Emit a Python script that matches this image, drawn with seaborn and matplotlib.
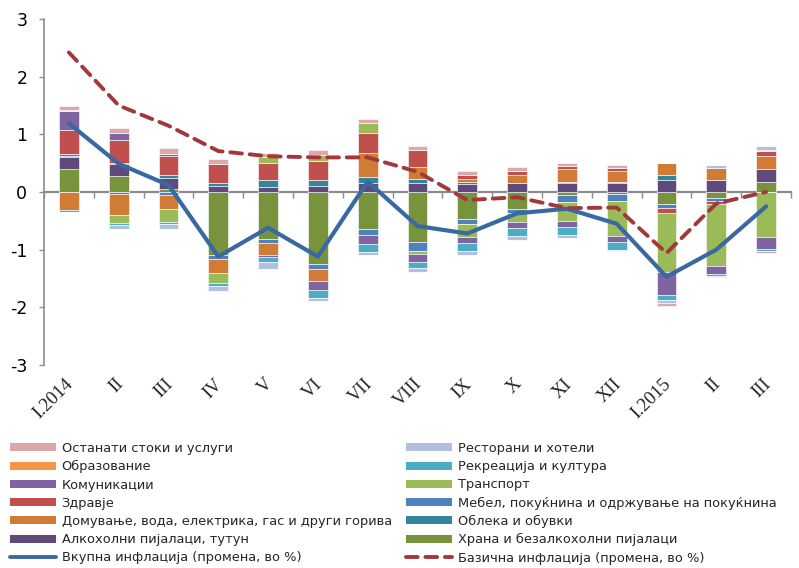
import numpy as np
import pandas as pd
import matplotlib
matplotlib.use("Agg")
import matplotlib.pyplot as plt
import seaborn as sns
from matplotlib.patches import Patch
from matplotlib.lines import Line2D

# Periods
periods = ["I.2014", "II", "III", "IV", "V", "VI", "VII", "VIII", "IX", "X",
           "XI", "XII", "I.2015", "II", "III"]

# Contributions to annual inflation by CPI group (percentage points)
food        = [0.40, 0.28, 0.06, -1.10, -0.82, -1.25, -0.64, -0.86, -0.46, -0.29, -0.06, -0.04, -0.20, -0.11, 0.17]
alcohol     = [0.20, 0.21, 0.19, 0.10, 0.09, 0.10, 0.16, 0.16, 0.14, 0.15, 0.16, 0.16, 0.21, 0.21, 0.23]
clothing    = [0.03, 0.02, 0.05, 0.06, 0.11, 0.10, 0.10, 0.06, 0.03, 0.00, 0.02, 0.02, 0.08, 0.00, 0.00]
furniture   = [0.03, -0.03, -0.06, -0.06, -0.07, -0.09, -0.11, -0.17, -0.10, -0.07, -0.12, -0.12, -0.07, -0.05, 0.00]
housing     = [-0.32, -0.37, -0.24, -0.25, -0.20, -0.20, 0.42, 0.21, 0.06, 0.15, 0.22, 0.18, 0.21, 0.21, 0.22]
health      = [0.41, 0.40, 0.32, 0.32, 0.30, 0.34, 0.34, 0.30, 0.07, 0.06, 0.05, 0.06, -0.10, -0.04, 0.09]
transport   = [0.00, -0.14, -0.22, -0.16, 0.11, 0.10, 0.18, -0.05, -0.22, -0.16, -0.32, -0.60, -1.02, -1.08, -0.78]
communic    = [0.33, 0.11, 0.04, 0.00, -0.03, -0.16, -0.16, -0.13, -0.11, -0.11, -0.11, -0.11, -0.40, -0.14, -0.20]
recreation  = [-0.03, -0.03, -0.03, -0.06, -0.09, -0.13, -0.13, -0.11, -0.13, -0.13, -0.14, -0.13, -0.09, -0.03, -0.05]
education   = [0.00, 0.00, 0.00, 0.00, 0.00, 0.00, 0.00, 0.00, 0.00, 0.00, 0.00, 0.00, 0.00, 0.00, 0.02]
restaurants = [0.02, -0.07, -0.09, -0.09, -0.13, -0.06, -0.06, -0.07, -0.08, -0.08, -0.05, -0.02, -0.04, 0.04, 0.06]
other       = [0.075, 0.09, 0.10, 0.09, 0.06, 0.09, 0.07, 0.06, 0.07, 0.08, 0.06, 0.05, -0.05, -0.02, -0.03]

# Headline and core inflation (y-o-y change, %)
total_infl = [1.19, 0.49, 0.12, -1.12, -0.62, -1.12, 0.18, -0.59, -0.72, -0.37, -0.29, -0.55, -1.47, -1.00, -0.25]
core_infl  = [2.42, 1.50, 1.15, 0.71, 0.62, 0.60, 0.60, 0.35, -0.14, -0.09, -0.28, -0.27, -1.06, -0.20, 0.00]

# Group names, in stacking order (bottom to top)
groups = [
    ("Храна и безалкохолни пијалаци", food, "#77933C"),
    ("Алкохолни пијалаци, тутун", alcohol, "#604A7B"),
    ("Облека и обувки", clothing, "#31859C"),
    ("Мебел, покуќнина и одржување на покуќнина", furniture, "#4F81BD"),
    ("Домување, вода, електрика, гас и други горива", housing, "#D07B36"),
    ("Здравје", health, "#C0504D"),
    ("Транспорт", transport, "#9BBB59"),
    ("Комуникации", communic, "#8064A2"),
    ("Рекреација и култура", recreation, "#4BACC6"),
    ("Образование", education, "#F79646"),
    ("Ресторани и хотели", restaurants, "#B0C1E0"),
    ("Останати стоки и услуги", other, "#DCA8A8"),
]
total_label = "Вкупна инфлација (промена, во %)"
core_label = "Базична инфлација (промена, во %)"

sns.set_theme(style="white")
plt.rcParams["font.family"] = ["DejaVu Sans"]

fig = plt.figure(figsize=(7.99, 5.68), dpi=100)
ax = fig.add_axes([44 / 799, 1 - 365 / 568, (791 - 44) / 799, (365 - 19) / 568])

x = np.arange(len(periods))
pos_base = np.zeros(len(periods))
neg_base = np.zeros(len(periods))
for name, vals, color in groups:
    v = np.asarray(vals, dtype=float)
    pos = np.where(v > 0, v, 0.0)
    neg = np.where(v < 0, v, 0.0)
    ax.bar(x, pos, bottom=pos_base, width=0.4, color=color,
           edgecolor="white", linewidth=0.4, zorder=2)
    ax.bar(x, neg, bottom=neg_base, width=0.4, color=color,
           edgecolor="white", linewidth=0.4, zorder=2)
    pos_base += pos
    neg_base += neg

lines = pd.DataFrame({"x": x, "total": total_infl, "core": core_infl})
sns.lineplot(data=lines, x="x", y="total", ax=ax, color="#3A69A2",
             linewidth=3.0, zorder=4)
sns.lineplot(data=lines, x="x", y="core", ax=ax, color="#A3383A",
             linewidth=2.8, zorder=4, dashes=False)
ax.lines[-1].set_dashes([3.0, 2.0])
ax.lines[-1].set_dash_capstyle("round")

ax.set_xlim(-0.5, len(periods) - 0.5)
ax.set_ylim(-3, 3)
ax.set_xlabel("")
ax.set_ylabel("")

axis_gray = "#8C8C8C"
for s in ["top", "right"]:
    ax.spines[s].set_visible(False)
ax.spines["left"].set_color(axis_gray)
ax.spines["left"].set_linewidth(1.2)
ax.spines["bottom"].set_position(("data", 0))
ax.spines["bottom"].set_color(axis_gray)
ax.spines["bottom"].set_linewidth(1.6)
ax.spines["bottom"].set_zorder(1)

ax.set_yticks(np.arange(-3, 4, 1))
ax.set_yticklabels([str(t) for t in range(-3, 4)])
ax.tick_params(axis="y", which="major", left=True, length=3.5, width=1,
               color=axis_gray, labelsize=12.5, pad=8.5, labelcolor="black")
ax.set_xticks(np.arange(-0.5, len(periods), 1.0))
ax.tick_params(axis="x", which="major", bottom=True, length=4, width=1,
               color=axis_gray, labelbottom=False, direction="out")

# Period labels below the plotting area
trans = matplotlib.transforms.blended_transform_factory(ax.transData, ax.transAxes)
for xi, lab in zip(x, periods):
    ax.text(xi - 0.08, -0.03, lab, transform=trans, rotation=45,
            ha="right", va="top", rotation_mode="anchor",
            fontsize=13.5, family="Liberation Serif")

# Legend in two columns, filled row by row
handles = {}
for name, vals, color in groups:
    handles[name] = Patch(facecolor=color, edgecolor="none")
handles[total_label] = Line2D([0], [0], color="#3A69A2", linewidth=2.8)
handles[core_label] = Line2D([0], [0], color="#A3383A", linewidth=2.8,
                             dashes=[3.0, 2.0], dash_capstyle="round")
left_col = ["Останати стоки и услуги", "Образование", "Комуникации", "Здравје",
            "Домување, вода, електрика, гас и други горива",
            "Алкохолни пијалаци, тутун", total_label]
right_col = ["Ресторани и хотели", "Рекреација и култура", "Транспорт",
             "Мебел, покуќнина и одржување на покуќнина", "Облека и обувки",
             "Храна и безалкохолни пијалаци", core_label]
order = left_col + right_col
fig.legend([handles[n] for n in order], order, ncol=2,
           loc="upper left", bbox_to_anchor=(10 / 799, 1 - 442 / 568),
           frameon=False, fontsize=9.4, handlelength=3.5, handleheight=0.55,
           handletextpad=0.45, columnspacing=1.1, labelspacing=0.4,
           borderaxespad=0, borderpad=0)

fig.savefig("out.png", dpi=100, facecolor="white")
